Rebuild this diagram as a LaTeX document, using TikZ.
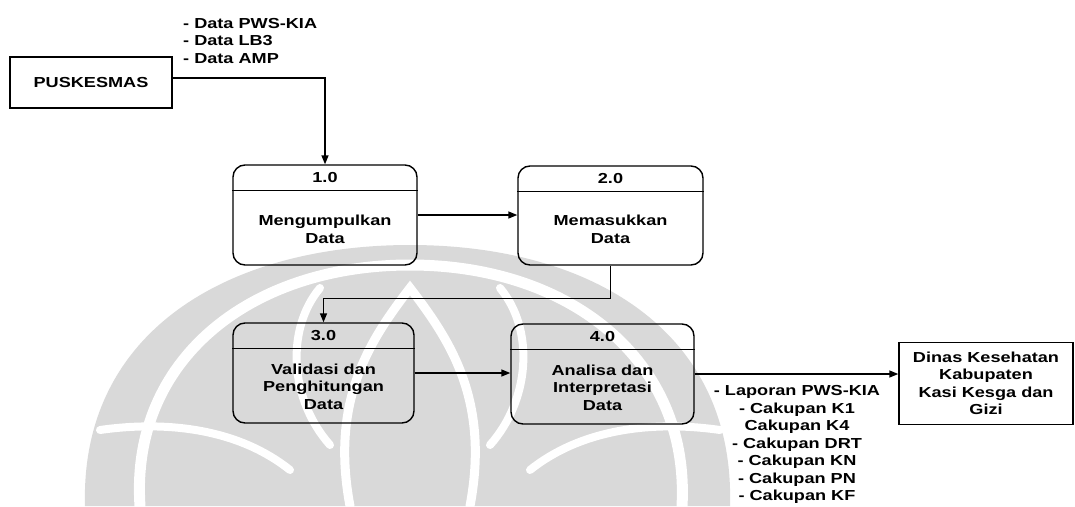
\documentclass[tikz,border=0pt]{standalone}
\usepackage{fontspec}
\setmainfont{Liberation Sans Bold}[FakeStretch=1.25]
\usetikzlibrary{arrows.meta,calc}
\definecolor{wm}{gray}{0.85}
\newcommand{\lblfont}{\fontsize{14.5pt}{17.5pt}\selectfont}
\tikzset{
  entity/.style={draw, line width=1.4pt, inner sep=0pt, align=center, font=\lblfont},
  proc/.style={draw, line width=1.4pt, rounded corners=12pt, inner sep=0pt},
  txt/.style={inner sep=0pt, font=\lblfont},
  flow/.style={line width=1.4pt, -{Triangle[length=9pt,width=7pt]}},
  divider/.style={line width=1.4pt},
  band/.style={white, line width=#1, line cap=round}
}
\begin{document}
\begin{tikzpicture}[x=1pt,y=-1pt]
\useasboundingbox (0,0) rectangle (1075,506);

% faint background emblem
\fill[wm] (85,506) .. controls (80,330) and (230,245) .. (410,245)
          .. controls (590,245) and (735,330) .. (730,506) -- cycle;
\draw[band=11pt] (140,506) .. controls (130,360) and (250,265) .. (410,265)
                 .. controls (570,265) and (690,360) .. (682,506);
\draw[band=9pt] (350,506) .. controls (330,400) and (370,340) .. (410,288)
                .. controls (450,340) and (490,400) .. (470,506);
\draw[band=8pt] (320,288) .. controls (285,330) and (290,400) .. (330,445);
\draw[band=8pt] (500,288) .. controls (535,330) and (530,400) .. (490,445);
\draw[band=8pt] (100,430) .. controls (170,420) and (240,430) .. (290,470);
\draw[band=8pt] (720,430) .. controls (650,420) and (580,430) .. (530,470);

% external entities
\node[entity, minimum width=162pt, minimum height=51pt] (pk) at (91,82.5) {PUSKESMAS};
\node[entity, minimum width=174pt, minimum height=82pt] (dn) at (986,383.5)
  {Dinas Kesehatan\\Kabupaten\\Kasi Kesga dan\\Gizi};

% processes
\node[proc, minimum width=184pt, minimum height=100pt] (p1) at (325,215) {};
\node[proc, minimum width=185pt, minimum height=99pt] (p2) at (610.5,215.5) {};
\node[proc, minimum width=181pt, minimum height=100pt] (p3) at (323.5,373) {};
\node[proc, minimum width=183pt, minimum height=100pt] (p4) at (602.5,374) {};

\foreach \p/\n in {p1/1.0, p2/2.0, p3/3.0, p4/4.0}{
  \draw[divider] ([yshift=-26pt]\p.north west) -- ([yshift=-26pt]\p.north east);
  \node[txt] (\p-id) at ([yshift=-13pt]\p.north) {\n};
}
\node[txt, align=center] (p1-name) at ([yshift=36.5pt]p1.south) {Mengumpulkan\\Data};
\node[txt, align=center] (p2-name) at ([yshift=36.5pt]p2.south) {Memasukkan\\Data};
\node[txt, align=center] (p3-name) at ([yshift=37pt]p3.south) {Validasi dan\\Penghitungan\\Data};
\node[txt, align=center] (p4-name) at ([yshift=37pt]p4.south) {Analisa dan\\Interpretasi\\Data};

% data flows
\draw[flow] ([yshift=4.5pt]pk.east) -| (p1.north);
\draw[flow] (p1.east) -- (p1.east -| p2.west);
\draw[flow] (p2.south) -- ++(0,33) -| (p3.north);
\draw[flow] (p3.east) -- (p3.east -| p4.west);
\draw[flow] (p4.east) -- (p4.east -| dn.west);

% flow labels
\node[txt, anchor=west, align=left] (in-lbl) at (183,41)
  {- Data PWS-KIA\\- Data LB3\\- Data AMP};
\node[txt, align=center] (out-lbl) at (797,444.5)
  {- Laporan PWS-KIA\\- Cakupan K1\\Cakupan K4\\- Cakupan DRT\\- Cakupan KN\\- Cakupan PN\\- Cakupan KF};
\end{tikzpicture}
\end{document}
